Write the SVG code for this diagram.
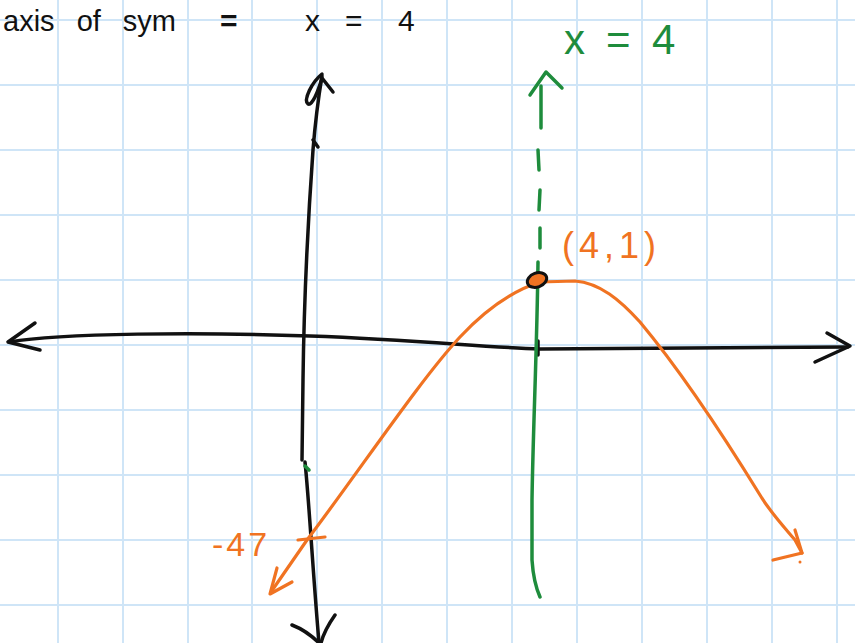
<svg xmlns="http://www.w3.org/2000/svg" width="855" height="643" viewBox="0 0 855 643">
<style>
.grid line{stroke:#cfe5f7;stroke-width:2}
.blk{fill:none;stroke:#111;stroke-width:3.5;stroke-linecap:round;stroke-linejoin:round}
.grn{fill:none;stroke:#1e8c3c;stroke-width:3.5;stroke-linecap:round;stroke-linejoin:round}
.org{fill:none;stroke:#f07322;stroke-width:3.2;stroke-linecap:round;stroke-linejoin:round}
.tb{font-family:"Liberation Sans",Arial,sans-serif;fill:#111}
.tg{font-family:"Liberation Sans",Arial,sans-serif;fill:#1e8c3c}
.to{font-family:"Liberation Sans",Arial,sans-serif;fill:#f07322}
</style>
<rect width="855" height="643" fill="#fff"/>
<g class="grid">
<line x1="58" y1="0" x2="58" y2="643"/><line x1="123" y1="0" x2="123" y2="643"/><line x1="188" y1="0" x2="188" y2="643"/><line x1="252" y1="0" x2="252" y2="643"/><line x1="317" y1="0" x2="317" y2="643"/><line x1="382" y1="0" x2="382" y2="643"/><line x1="447" y1="0" x2="447" y2="643"/><line x1="512" y1="0" x2="512" y2="643"/><line x1="577" y1="0" x2="577" y2="643"/><line x1="642" y1="0" x2="642" y2="643"/><line x1="707" y1="0" x2="707" y2="643"/><line x1="772" y1="0" x2="772" y2="643"/><line x1="837" y1="0" x2="837" y2="643"/>
<line x1="0" y1="20" x2="855" y2="20"/><line x1="0" y1="85" x2="855" y2="85"/><line x1="0" y1="150" x2="855" y2="150"/><line x1="0" y1="215" x2="855" y2="215"/><line x1="0" y1="280" x2="855" y2="280"/><line x1="0" y1="345" x2="855" y2="345"/><line x1="0" y1="410" x2="855" y2="410"/><line x1="0" y1="475" x2="855" y2="475"/><line x1="0" y1="540" x2="855" y2="540"/><line x1="0" y1="605" x2="855" y2="605"/>
</g>
<g id="title">
<text class="tb" x="3" y="31" font-size="29" word-spacing="14">axis of sym</text>
<text class="tb" x="220" y="31" font-size="30" font-weight="bold">=</text>
<text class="tb" y="31" font-size="30"><tspan x="305">x</tspan><tspan x="345">=</tspan><tspan x="398">4</tspan></text>
</g>
<g id="axes">
<path class="blk" d="M10,342 C60,333 200,332 310,336 S480,347 540,349 L848,347"/>
<path class="blk" d="M35,323 L8,342 L40,350"/>
<path class="blk" d="M827,333 L850,346 L815,362"/>
<path class="blk" d="M322,76 C318,100 315,125 313,150 C308,220 304,300 303,380 L302,460"/>
<path class="blk" d="M322,74 C312,82 303,100 308,104 C312,106 318,92 322,78 L333,92"/>
<path class="blk" d="M313,140 L318,147"/>
<path class="blk" d="M305,462 C309,500 312,560 319,643"/>
<path class="blk" d="M292,625 C305,630 314,638 319,643 M335,615 C328,625 323,635 321,643"/>
<path class="blk" d="M538,341 L538,355"/>
</g>
<g id="axis-of-symmetry">
<path class="grn" d="M541,128 L541,86"/>
<path class="grn" d="M530,95 L546,72 L562,88"/>
<path class="grn" d="M538,150 L539,170 M540,190 L539,210 M540,228 L540,248"/>
<path class="grn" d="M538,262 C537,350 533,430 532,500 L532,560 C533,575 536,588 540,597"/>
<path class="grn" d="M305,466 L309,470"/>
<text class="tg" y="54" font-size="42"><tspan x="564">x</tspan><tspan x="606">=</tspan><tspan x="652">4</tspan></text>
</g>
<g id="parabola">
<path class="org" d="M271,592 L307,540 C360,470 420,380 460,337 C490,305 515,290 540,282 L575,281 C600,283 620,300 640,322 C680,370 720,430 760,495 C770,512 785,528 795,540 L802,553"/>
<path class="org" d="M277,568 L270,594 L292,582"/>
<path class="org" d="M795,530 L802,553 L773,560"/>
<circle cx="800" cy="562" r="1.5" fill="#f07322"/>
<path class="org" d="M298,540 L325,537" stroke-width="5"/>
<ellipse cx="537" cy="280" rx="10" ry="7" transform="rotate(-20 537 280)" fill="#f07322" stroke="#111" stroke-width="3"/>
</g>
<g id="labels">
<text class="to" x="562" y="258" font-size="36" letter-spacing="5">(4,1)</text>
<text class="to" x="212" y="556" font-size="34" letter-spacing="3">-47</text>
</g>
</svg>
